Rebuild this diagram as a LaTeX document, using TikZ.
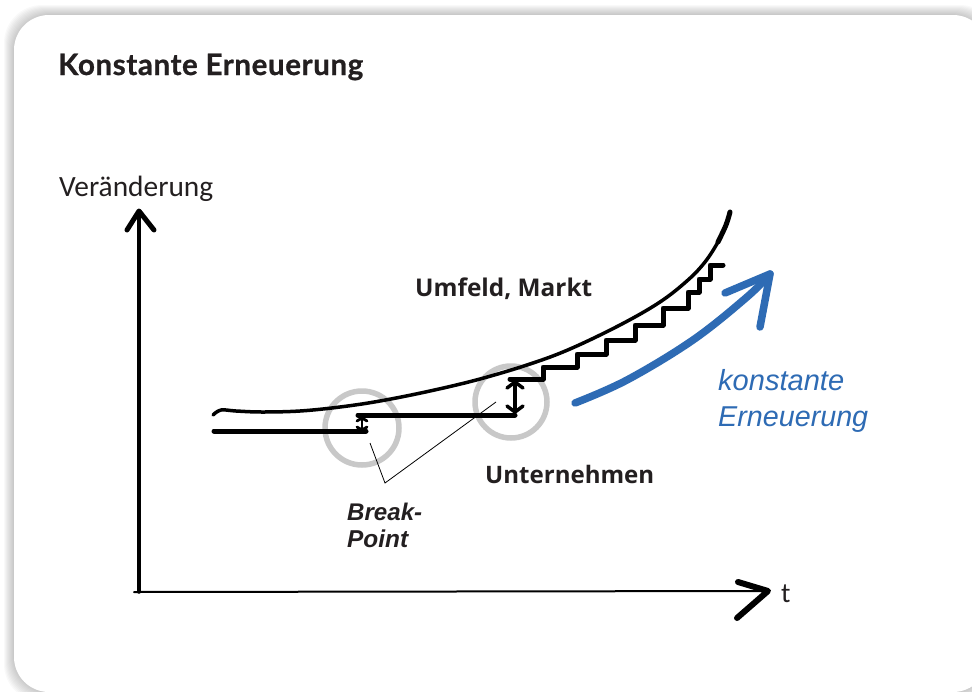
\documentclass[tikz,border=0pt]{standalone}
\usepackage{fontspec}
\usepackage{graphicx}
\usetikzlibrary{arrows.meta}
\newfontfamily\headfont{Lato}[BoldFeatures={FakeBold=0.8}, LetterSpace=2]
\newfontfamily\boldfont{Open Sans}
\newfontfamily\axisfont{Carlito}
\newfontfamily\notefont{Liberation Sans}
\newcommand{\fitto}[2]{\resizebox{#1}{!}{#2}}
\definecolor{inkblue}{RGB}{46,107,180}
\definecolor{ringgray}{RGB}{200,200,200}
\definecolor{textdark}{RGB}{35,31,32}
\tikzset{
  ink/.style={line width=#1, line cap=round, line join=round, black},
  ring/.style={draw=ringgray, line width=5.5pt},
  leader/.style={black, line width=0.8pt},
  txt/.style={anchor=base west, inner sep=0pt, text=textdark},
}
\begin{document}
\begin{tikzpicture}[x=1pt,y=-1pt]
\useasboundingbox (0,0) rectangle (972,691);
% card with soft glow
\foreach \i in {1,...,10}
  \fill[black, opacity=0.022, rounded corners=38pt] (14-\i,15-\i) rectangle (988+\i,692+\i);
\fill[white, rounded corners=35pt] (14,15) rectangle (988,692);

% texts
\node[txt] (title) at (58,75) {\fitto{305pt}{\headfont\bfseries Konstante Erneuerung}};
\node[txt] (ylabel) at (59,196) {\fitto{154pt}{\axisfont Veränderung}};
\node[txt] (xlabel) at (781,602) {\axisfont\fontsize{28}{28}\selectfont t};
\node[txt] (market) at (415,296) {\fitto{177pt}{\boldfont\bfseries Umfeld, Markt}};
\node[txt] (company) at (485,483) {\fitto{169pt}{\boldfont\bfseries Unternehmen}};
\node[txt] (bp1) at (347,520) {\fitto{75pt}{\notefont\bfseries\itshape Break-}};
\node[txt] (bp2) at (347,547) {\fitto{61pt}{\notefont\bfseries\itshape Point}};
\node[txt, text=inkblue] (ren1) at (718,390) {\fitto{126pt}{\notefont\itshape konstante}};
\node[txt, text=inkblue] (ren2) at (718,426) {\fitto{150pt}{\notefont\itshape Erneuerung}};

% axes
\coordinate (O) at (139,592);
\coordinate (ytip) at (139,211);
\coordinate (xtip) at (768,591);
\draw[ink=3.5pt] (O) -- (ytip);
\draw[ink=5pt] (127,230) -- (ytip) -- (154,230);
\draw[ink=2pt] (134,592) -- (xtip);
\draw[ink=6pt] (738,582) -- (xtip) -- (737,618);

% break-point rings
\draw[ring] (362,428) circle[radius=37pt];
\draw[ring] (511,402) circle[radius=36pt];

% environment / market curve
\draw[ink=3.5pt] plot[smooth, tension=0.6] coordinates {
  (213,415) (221,410) (236,411) (262,412) (300,411) (340,407) (380,401)
  (430,391) (480,379) (530,364) (570,349) (620,325) (660,302) (688,280)
  (705,262) (718,242) (726,225) (730,212)};
\draw[ink=5pt] plot[smooth, tension=0.6] coordinates {(718,242) (726,225) (730,212)};

% company development
\draw[ink=5pt] (214,431) -- (366,431);
\draw[ink=5pt] (358,415) -- (515,415);
\draw[ink=5pt] (510,379) -- (543,379) -- (543,367) -- (577,367) -- (577,354)
  -- (606,354) -- (606,340) -- (635,340) -- (635,325) -- (663,325) -- (663,308)
  -- (688,308) -- (688,292) -- (699,292) -- (699,279) -- (710,279) -- (710,265)
  -- (723,265);

% gap markers (double-headed, drawn as chevrons)
\coordinate (g1a) at (362,430);
\coordinate (g1b) at (362,418);
\draw[ink=2.8pt] (g1a) -- (g1b);
\draw[ink=2.8pt] (357,421) -- (g1b) -- (367,421);
\draw[ink=2.8pt] (357,427) -- (g1a) -- (367,427);
\coordinate (g2a) at (515,412);
\coordinate (g2b) at (515,382);
\draw[ink=3.5pt] (g2a) -- (g2b);
\draw[ink=3.5pt] (507,388) -- (g2b) -- (523,388);
\draw[ink=3.5pt] (507,406) -- (g2a) -- (523,406);

% leader lines to the label
\coordinate (apex) at (385,483);
\draw[leader] (370,443) -- (apex) -- (496,402);

% renewal arrow
\coordinate (rtip) at (770,274);
\draw[ink=7.5pt, inkblue] plot[smooth, tension=0.6] coordinates {
  (575,403) (627,380) (693,340) (747,297) (rtip)};
\draw[ink=7.5pt, inkblue] (725,293) -- (rtip) -- (760,327);
\end{tikzpicture}
\end{document}
